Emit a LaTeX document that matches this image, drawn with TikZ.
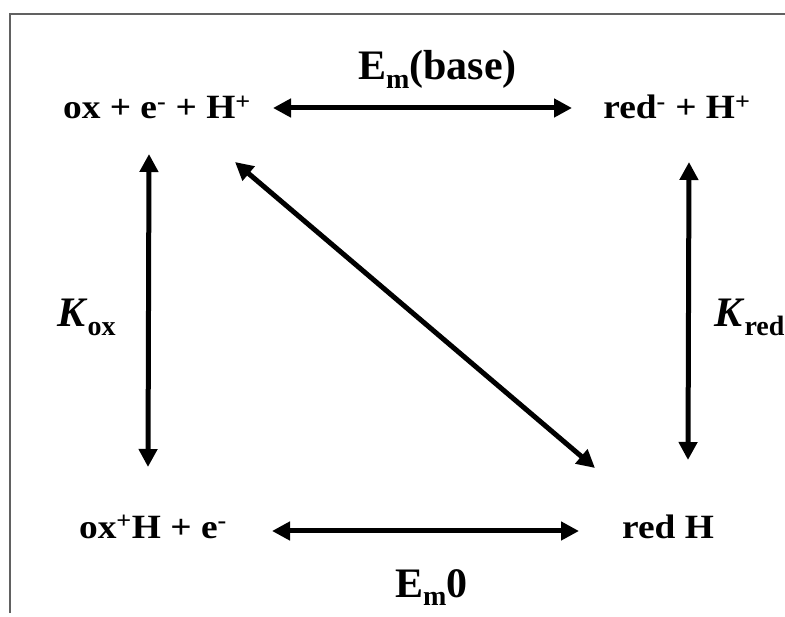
\documentclass[tikz,border=0pt]{standalone}
\usepackage{fontspec}
\setmainfont{Liberation Serif}
\usepackage{graphicx}
\usetikzlibrary{arrows.meta}
\newcommand{\chemtxt}[1]{\scalebox{1.1}[1]{#1}}
\newcommand{\lowsub}[1]{\raisebox{-0.2em}{\fontsize{28}{28}\selectfont #1}}
\begin{document}
\begin{tikzpicture}[x=1pt,y=-1pt,
  chem/.style={inner sep=0pt, anchor=base, font=\fontsize{34}{40}\selectfont\bfseries},
  lbl/.style={inner sep=0pt, anchor=base west, font=\fontsize{42}{48}\selectfont\bfseries},
  arr/.style={line width=5pt, {Triangle[length=18pt,width=18pt]}-{Triangle[length=18pt,width=18pt]}},
  frame/.style={line width=2.5pt, black!62}]
\useasboundingbox (0,0) rectangle (785,617);
\draw[frame] (10,613) -- (10,14) -- (785,14);
\node[chem] (A) at (157,119) {\chemtxt{ox + e\textsuperscript{-} + H\textsuperscript{+}}};
\node[chem] (B) at (677,119) {\chemtxt{red\textsuperscript{-} + H\textsuperscript{+}}};
\node[chem] (C) at (153,538) {\chemtxt{ox\textsuperscript{+}H + e\textsuperscript{-}}};
\node[chem] (D) at (668,538) {\chemtxt{red H}};
\node[lbl] (L1) at (358,80) {E\lowsub{m}(base)};
\node[lbl] (L2) at (57,327) {\textit{K}\lowsub{ox}};
\node[lbl] (L3) at (714,327) {\textit{K}\lowsub{red}};
\node[lbl] (L4) at (395,597) {E\lowsub{m}0};
\draw[arr] ([shift={(116,-11)}]A.base) -- ([shift={(-105,-11)}]B.base);
\draw[arr] ([shift={(119,-7)}]C.base) -- ([shift={(-89,-7)}]D.base);
\draw[arr] ([shift={(-8,35)}]A.base) -- ([shift={(-5,-71)}]C.base);
\draw[arr] ([shift={(12,43)}]B.base) -- ([shift={(20,-78)}]D.base);
\draw[arr] ([shift={(78,43)}]A.base) -- ([shift={(-73,-70)}]D.base);
\end{tikzpicture}
\end{document}
